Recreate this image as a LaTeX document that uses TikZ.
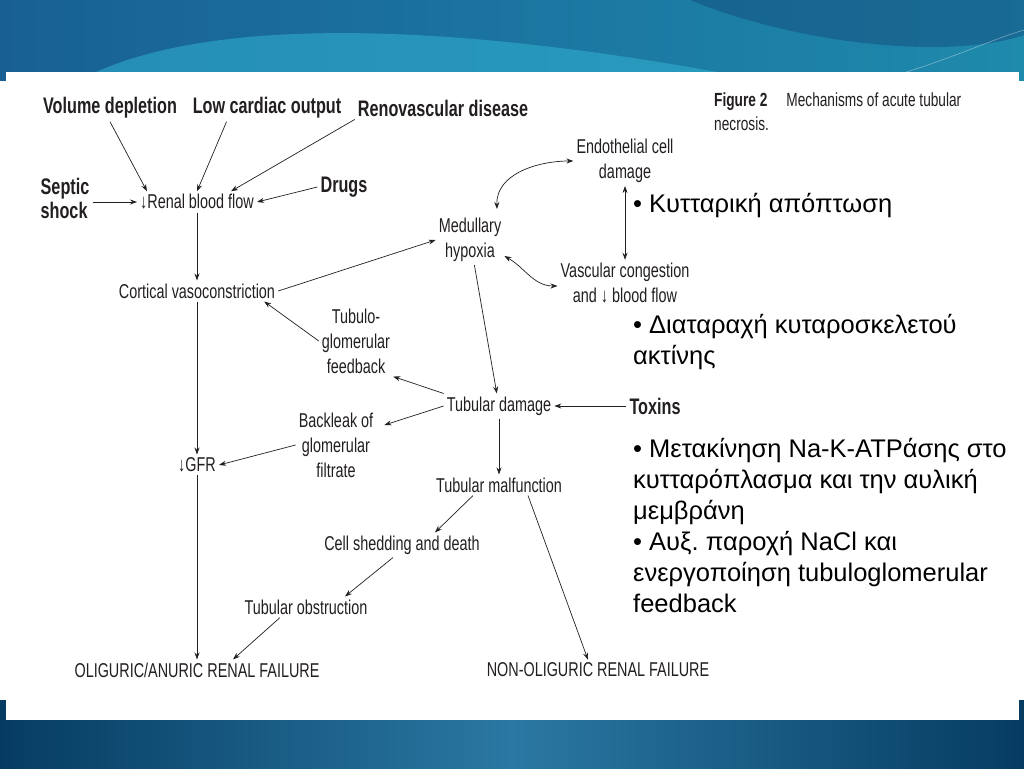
\documentclass[tikz,border=0pt]{standalone}
\usepackage{fontspec}
\setmainfont{Liberation Sans}
\newfontfamily\figfont[FakeStretch=0.72]{Liberation Sans}
\usetikzlibrary{arrows.meta}

\definecolor{slideblue}{RGB}{24,96,148}
\definecolor{slideteal}{RGB}{30,138,172}
\definecolor{slidecyan}{RGB}{50,178,210}
\definecolor{slidedeep}{RGB}{18,70,120}
\definecolor{slidedark}{RGB}{6,60,98}
\definecolor{slidemid}{RGB}{42,120,163}
\definecolor{figink}{RGB}{35,31,32}

\begin{document}
\begin{tikzpicture}[x=1pt, y=-1pt,
  lbl/.style={font=\figfont\fontsize{20}{25}\selectfont, text=figink, align=center, inner sep=3pt},
  src/.style={font=\figfont\bfseries\fontsize{22.5}{24}\selectfont, text=figink, align=left, inner sep=3pt},
  note/.style={font=\frenchspacing\fontsize{25.5}{31}\selectfont, align=left, anchor=north west, inner sep=0pt},
  arr/.style={-{Stealth[length=7pt,width=5pt]}, line width=0.7pt, figink},
  arrb/.style={{Stealth[length=7pt,width=5pt]}-{Stealth[length=7pt,width=5pt]}, line width=0.7pt, figink}]
  \useasboundingbox (0,0) rectangle (1024,768);
  % slide background
  \shade[left color=slideblue, right color=slideteal] (0,0) rectangle (1024,80);
  \fill[slidecyan, opacity=0.55] (80,80) .. controls (200,15) and (450,20) .. (760,80) -- cycle;
  \fill[slidedeep, opacity=0.45] (690,0) .. controls (800,45) and (950,60) .. (1024,35) -- (1024,0) -- cycle;
  \draw[white, opacity=0.4, line width=0.6pt] (880,80) .. controls (950,60) and (990,40) .. (1024,30);
  \shade[left color=slidedark, right color=slidedark, middle color=slidemid] (0,700) rectangle (1024,768);
  \fill[white] (6,72) rectangle (1019,720);

  % causes
  \node[src] (vol) at (110,108) {Volume depletion};
  \node[src] (lco) at (267,108) {Low cardiac output};
  \node[src] (reno) at (443,108) {Renovascular disease};
  \node[src] (septic) at (65,198) {Septic\\shock};
  \node[src] (drugs) at (344,187) {Drugs};
  \node[src] (toxins) at (655,406) {Toxins};

  % mechanisms
  \node[lbl] (rbf) at (197,202) {↓Renal blood flow};
  \node[lbl] (medh) at (470,240) {Medullary\\hypoxia};
  \node[lbl] (endo) at (625,161) {Endothelial cell\\damage};
  \node[lbl] (vasc) at (625,283) {Vascular congestion\\and ↓ blood flow};
  \node[lbl] (cortv) at (197,291) {Cortical vasoconstriction};
  \node[lbl] (tgf) at (356,341) {Tubulo-\\glomerular\\feedback};
  \node[lbl] (tdam) at (499,406) {Tubular damage};
  \node[lbl] (back) at (336,445) {Backleak of\\glomerular\\filtrate};
  \node[lbl] (gfr) at (197,465) {↓GFR};
  \node[lbl] (tmal) at (499,485) {Tubular malfunction};
  \node[lbl] (cell) at (402,545) {Cell shedding and death};
  \node[lbl] (tobs) at (306,607) {Tubular obstruction};
  \node[lbl] (olig) at (197,670) {OLIGURIC/ANURIC RENAL FAILURE};
  \node[lbl] (nonolig) at (598,670) {NON-OLIGURIC RENAL FAILURE};

  \node[lbl, anchor=north west, align=left, font=\figfont\fontsize{19}{24}\selectfont] (cap) at (711,90) {\textbf{Figure 2}\quad Mechanisms of acute tubular\\necrosis.};

  % connectors
  \draw[arr] (vol.south) -- ([xshift=10]rbf.north west);
  \draw[arr] ([xshift=37]lco.south west) -- (rbf.north);
  \draw[arr] (reno.south west) -- ([xshift=-26]rbf.north east);
  \draw[arr] (septic.east |- rbf) -- (rbf.west);
  \draw[arr] (drugs.west) -- (rbf.east);
  \draw[arr] (rbf) -- (cortv);
  \draw[arr] (cortv.east) -- (medh.west);
  \draw[arrb] ([xshift=27,yshift=6]medh.north) to[out=92,in=180] (endo.west);
  \draw[arrb] (endo) -- (vasc);
  \draw[arrb] ([yshift=-16]medh.east) to[out=-30,in=180] ([yshift=-3]vasc.west);
  \draw[arr] (medh) -- (tdam);
  \draw[arr] (tgf.west) -- ([xshift=-14]cortv.south east);
  \draw[arr] (cortv) -- (gfr);
  \draw[arr] (gfr) -- (olig);
  \draw[arr] (tdam.north west) -- (tgf.south east);
  \draw[arr] (tdam.west) -- ([xshift=8,yshift=20]back.east);
  \draw[arr] (back.west) -- (gfr.east);
  \draw[arr] (toxins.west) -- (tdam.east);
  \draw[arr] (tdam) -- (tmal);
  \draw[arr] ([xshift=-26]tmal.south) -- ([xshift=33]cell.north);
  \draw[arr] ([xshift=29]tmal.south) -- ([xshift=-10]nonolig.north);
  \draw[arr] ([xshift=-9]cell.south) -- ([xshift=39]tobs.north);
  \draw[arr] ([xshift=-26]tobs.south) -- ([xshift=36]olig.north);

  % notes
  \node[note] (n1) at (633,193) {• Κυτταρική απόπτωση};
  \node[note] (n2) at (633,314) {• Διαταραχή κυταροσκελετού\\ακτίνης};
  \node[note] (n3) at (633,438) {• Μετακίνηση Na-K-ATPάσης στο\\κυτταρόπλασμα και την αυλική\\μεμβράνη\\• Αυξ. παροχή NaCl και\\ενεργοποίηση tubuloglomerular\\feedback};
\end{tikzpicture}
\end{document}
